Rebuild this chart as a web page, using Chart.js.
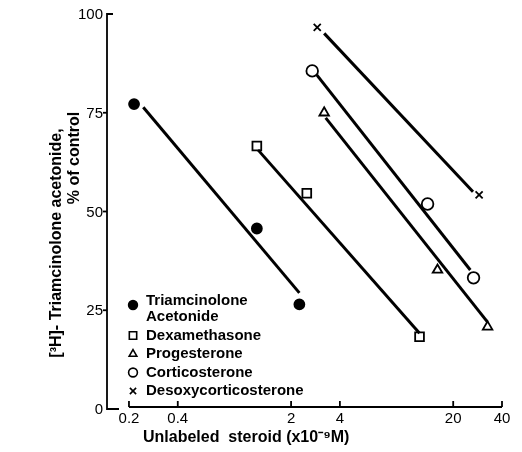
<!DOCTYPE html>
<html>
<head>
<meta charset="utf-8">
<script src="https://cdn.jsdelivr.net/npm/chart.js@4"></script>
<style>
  html, body { margin: 0; padding: 0; background: #fff; }
  #wrap { width: 522px; height: 452px; }
</style>
</head>
<body>
<div id="wrap"><canvas id="chart"></canvas></div>
<script>
// measured points, concentration in units of 1e-9 M
const taX = [0.215, 1.23, 2.25];
const taY = [77.2, 45.7, 26.5];
const dexX = [1.23, 2.5, 12.4];
const dexY = [66.6, 54.6, 18.3];
const progX = [3.2, 16.0, 32.6];
const progY = [75.0, 35.2, 20.8];
const cortX = [2.7, 13.9, 26.7];
const cortY = [85.6, 51.9, 33.2];
const docX = [2.9, 28.9];
const docY = [96.6, 54.2];

// fitted lines (end points)
const taFitX = [0.245, 2.25];
const taFitY = [76.4, 29.4];
const dexFitX = [1.25, 12.4];
const dexFitY = [65.6, 19.2];
const progFitX = [3.27, 32.6];
const progFitY = [73.7, 22.0];
const cortFitX = [2.88, 25.5];
const cortFitY = [84.6, 35.2];
const docFitX = [3.2, 26.5];
const docFitY = [95.1, 55.0];

const xTicks = [0.2, 0.4, 2, 4, 20, 40];
const xTickLabels = ['0.2', '0.4', '2', '4', '20', '40'];
const yTicks = [0, 25, 50, 75, 100];
const yTickLabels = ['0', '25', '50', '75', '100'];

const seriesNames = [['Triamcinolone', 'Acetonide'], ['Dexamethasone'], ['Progesterone'], ['Corticosterone'], ['Desoxycorticosterone']];

const FONT = '"Liberation Sans", Arial, sans-serif';

function pts(xs, ys) {
    return xs.map((x, i) => ({x: x, y: ys[i]}));
}

function fitSet(xs, ys) {
    return {
        type: 'line',
        data: pts(xs, ys),
        borderColor: '#000',
        borderWidth: 3,
        pointRadius: 0,
        fill: false,
    };
}

const markers = [
    {pointStyle: 'circle', radius: 5, fill: '#000'},
    {pointStyle: 'rect', radius: 6.2, fill: '#fff'},
    {pointStyle: 'triangle', radius: 5.5, fill: '#fff'},
    {pointStyle: 'circle', radius: 5.8, fill: '#fff'},
    {pointStyle: 'crossRot', radius: 5, fill: '#fff'},
];

function pointSet(xs, ys, m) {
    return {
        type: 'scatter',
        data: pts(xs, ys),
        pointStyle: m.pointStyle,
        pointRadius: m.radius,
        pointBackgroundColor: m.fill,
        pointBorderColor: '#000',
        pointBorderWidth: 1.8,
        showLine: false,
    };
}

// axes, ticks, titles and legend drawn by hand
const decorations = {
    id: 'decorations',
    afterDraw(chart) {
        const ctx = chart.ctx;
        const xs = chart.scales.x;
        const ys = chart.scales.y;
        const area = chart.chartArea;
        ctx.save();
        ctx.strokeStyle = '#000';
        ctx.fillStyle = '#000';
        ctx.lineWidth = 1.8;

        // y axis
        const yTop = ys.getPixelForValue(100);
        const yBot = ys.getPixelForValue(0);
        ctx.beginPath();
        ctx.moveTo(area.left + 6, yTop);
        ctx.lineTo(area.left, yTop);
        ctx.lineTo(area.left, yBot);
        ctx.lineTo(area.left + 12, yBot);
        ctx.stroke();

        ctx.font = '15px ' + FONT;
        ctx.textAlign = 'right';
        ctx.textBaseline = 'middle';
        yTicks.forEach((v, i) => {
            const py = ys.getPixelForValue(v);
            if (v > 0 && v < 100) {
                ctx.beginPath();
                ctx.moveTo(area.left - 4, py);
                ctx.lineTo(area.left, py);
                ctx.stroke();
            }
            ctx.fillText(yTickLabels[i], area.left - 4, py + 1);
        });

        // x axis
        const axY = yBot - 2;
        ctx.beginPath();
        ctx.moveTo(xs.getPixelForValue(xTicks[0]), axY);
        ctx.lineTo(xs.getPixelForValue(xTicks[xTicks.length - 1]), axY);
        ctx.stroke();
        ctx.textAlign = 'center';
        xTicks.forEach((v, i) => {
            const px = xs.getPixelForValue(v);
            ctx.beginPath();
            ctx.moveTo(px, axY);
            ctx.lineTo(px, axY - 6);
            ctx.stroke();
            ctx.fillText(xTickLabels[i], px, axY + 12);
        });

        // axis titles
        ctx.font = 'bold 16px ' + FONT;
        ctx.textAlign = 'left';
        ctx.fillText('Unlabeled  steroid (x10\u207B\u2079M)', 143, 438);

        ctx.save();
        ctx.translate(57, 243);
        ctx.rotate(-Math.PI / 2);
        ctx.textAlign = 'center';
        ctx.fillText('[\u00B3H]- Triamcinolone acetonide,', 0, 0);
        ctx.restore();
        ctx.save();
        ctx.translate(75, 158);
        ctx.rotate(-Math.PI / 2);
        ctx.textAlign = 'center';
        ctx.fillText('% of control', 0, 0);
        ctx.restore();

        // legend
        ctx.font = 'bold 15px ' + FONT;
        let ly = 301;
        ctx.textAlign = 'left';
        seriesNames.forEach((lines, i) => {
            const m = markers[i];
            ctx.fillStyle = m.fill;
            ctx.strokeStyle = '#000';
            ctx.lineWidth = 1.6;
            const my = i === 0 ? ly + 4 : ly;
            const r = i === 1 ? 5.2 : (i === 4 ? 4.4 : 4.4);
            Chart.helpers.drawPoint(ctx, {pointStyle: m.pointStyle, radius: r, rotation: 0, borderWidth: 1.6}, 133, my);
            ctx.fillStyle = '#000';
            lines.forEach((t, j) => {
                ctx.fillText(t, 146, ly);
                ly += j < lines.length - 1 ? 16 : 18.5;
            });
        });
        ctx.restore();
    }
};

new Chart(document.getElementById('chart'), {
    data: {
        datasets: [
            fitSet(taFitX, taFitY),
            fitSet(dexFitX, dexFitY),
            fitSet(progFitX, progFitY),
            fitSet(cortFitX, cortFitY),
            fitSet(docFitX, docFitY),
            pointSet(taX, taY, markers[0]),
            pointSet(dexX, dexY, markers[1]),
            pointSet(progX, progY, markers[2]),
            pointSet(cortX, cortY, markers[3]),
            pointSet(docX, docY, markers[4]),
        ]
    },
    options: {
        responsive: true,
        maintainAspectRatio: false,
        animation: false,
        layout: {padding: {left: 107, right: 20, top: 14, bottom: 43}},
        plugins: {legend: {display: false}, tooltip: {enabled: false}},
        scales: {
            x: {type: 'logarithmic', min: 0.1464, max: 40, display: false},
            y: {type: 'linear', min: 0, max: 100, display: false},
        },
        clip: false,
    },
    plugins: [decorations],
});
</script>
</body>
</html>
